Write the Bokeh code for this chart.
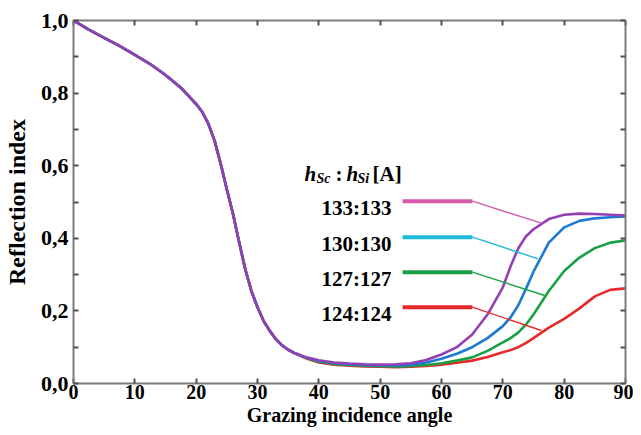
import math
from bokeh.plotting import figure
from bokeh.models import (LinearAxis, FixedTicker, CustomJSTickFormatter, Label, Range1d, Title)
from bokeh.embed import file_html
from bokeh.resources import INLINE

# ---------------- data ----------------
common_angles = [0, 2.5, 5, 7.5, 10, 12.5, 15, 17.5, 20, 21, 22, 23, 24, 25, 26,
                 27, 28, 29, 30, 31, 32, 33, 34, 35, 36]
common_vals = [1.0, 0.975, 0.952, 0.93, 0.905, 0.88, 0.85, 0.815, 0.77, 0.748, 0.715,
               0.669, 0.605, 0.535, 0.468, 0.39, 0.315, 0.255, 0.21, 0.172, 0.145,
               0.122, 0.105, 0.093, 0.084]

tail_angles = [38, 40, 42.5, 45, 47.5, 50, 52.5, 55, 57.5, 60, 62.5, 65, 67.5, 70,
               71.25, 72.5, 73.75, 75, 77.5, 80, 82.5, 85, 87.5, 90]

tail_133 = [0.072, 0.064, 0.058, 0.055, 0.053, 0.052, 0.053, 0.056, 0.065, 0.080, 0.100,
            0.135, 0.190, 0.265, 0.322, 0.372, 0.405, 0.425, 0.453, 0.465, 0.468, 0.467,
            0.465, 0.463]
tail_130 = [0.071, 0.062, 0.056, 0.053, 0.051, 0.050, 0.050, 0.052, 0.058, 0.068, 0.082,
            0.100, 0.125, 0.158, 0.182, 0.215, 0.260, 0.308, 0.388, 0.430, 0.448, 0.455,
            0.458, 0.460]
tail_127 = [0.070, 0.060, 0.054, 0.051, 0.049, 0.048, 0.047, 0.048, 0.051, 0.056, 0.063,
            0.072, 0.090, 0.113, 0.125, 0.140, 0.162, 0.190, 0.255, 0.310, 0.347, 0.373,
            0.388, 0.394]
tail_124 = [0.069, 0.058, 0.052, 0.049, 0.047, 0.046, 0.045, 0.046, 0.048, 0.052, 0.057,
            0.063, 0.073, 0.086, 0.092, 0.100, 0.111, 0.125, 0.154, 0.178, 0.207, 0.240,
            0.258, 0.262]

series_names = ["133:133", "130:130", "127:127", "124:124"]
series_tails = [tail_133, tail_130, tail_127, tail_124]
curve_colors = ["#9440b4", "#1c7ad2", "#1aa044", "#e62a2a"]
legend_colors = ["#d65aaa", "#1cb8d8", "#1aa044", "#e62a2a"]
# points on the curves where the leader lines end
leader_x = [76.3, 75.75, 76.84, 76.3]
leader_y = [0.4416, 0.3435, 0.2424, 0.146]

x_ticks = [0, 10, 20, 30, 40, 50, 60, 70, 80, 90]
y_ticks = [0.0, 0.2, 0.4, 0.6, 0.8, 1.0]
y_minor = [0.1, 0.3, 0.5, 0.7, 0.9]

angles = common_angles + tail_angles

# ---------------- figure ----------------
W, H = 633, 427
FL, FR, FT, FB = 72, 625, 20, 383  # frame edges in picture px
p = figure(width=W, height=H, output_backend="svg", toolbar_location=None,
           x_range=Range1d(0, 90), y_range=Range1d(0, 1.0),
           min_border_left=FL, min_border_right=W - FR, min_border_top=FT,
           min_border_bottom=H - FB,
           x_axis_location=None, y_axis_location=None)
p.outline_line_color = None
p.xgrid.visible = False
p.ygrid.visible = False
p.background_fill_color = "white"

AX_COL = "#7c7c7c"
TICK_COL = "#505050"
FONT = "Liberation Serif"

def style_axis(ax, labels=True, size="18px", standoff=3):
    ax.axis_line_color = AX_COL
    ax.axis_line_width = 2
    ax.major_tick_in = 5
    ax.major_tick_out = 0
    ax.minor_tick_in = 5
    ax.minor_tick_out = 0
    ax.major_tick_line_color = TICK_COL
    ax.major_tick_line_width = 2
    ax.minor_tick_line_color = TICK_COL
    ax.minor_tick_line_width = 2
    ax.major_label_text_font = FONT
    ax.major_label_text_font_style = "bold"
    ax.major_label_text_font_size = size
    ax.major_label_text_color = "black"
    ax.major_label_standoff = standoff
    if not labels:
        ax.formatter = CustomJSTickFormatter(code="return '';")

comma_fmt = CustomJSTickFormatter(code="return tick.toFixed(1).replace('.', ',');")

xb = LinearAxis(ticker=FixedTicker(ticks=x_ticks))
style_axis(xb, True, "20px", 1)
p.add_layout(xb, "below")

xt = LinearAxis(ticker=FixedTicker(ticks=x_ticks))
style_axis(xt, False)
p.add_layout(xt, "above")

yl = LinearAxis(ticker=FixedTicker(ticks=y_ticks, minor_ticks=y_minor))
style_axis(yl, True, "22px", 5)
yl.formatter = comma_fmt
yl.axis_label = "Reflection index"
yl.axis_label_text_font = FONT
yl.axis_label_text_font_style = "bold"
yl.axis_label_text_font_size = "24px"
yl.axis_label_text_color = "black"
yl.axis_label_standoff = 8
p.add_layout(yl, "left")

yr = LinearAxis(ticker=FixedTicker(ticks=y_ticks, minor_ticks=y_minor))
style_axis(yr, False)
p.add_layout(yr, "right")

# x axis title, centred under the frame
xtitle = Title(text="Grazing incidence angle", align="center",
               text_font=FONT, text_font_style="bold", text_font_size="20px",
               text_color="black", standoff=0)
p.add_layout(xtitle, "below")

# ---------------- curves ----------------
for tail, col in reversed(list(zip(series_tails, curve_colors))):
    p.line(angles, common_vals + tail, line_color=col, line_width=2.6)

# ---------------- legend (annotation style) ----------------
def wx(X):
    return (X - FL) / (FR - FL) * 90
def wy(Y):
    return (FB - Y) / (FB - FT)
def sx(X):  # picture px -> frame-relative screen units
    return X - FL
def sy(Y):
    return FB - Y

row_Y = [200.7, 236.7, 271.7, 306.7]
seg_x0, seg_x1 = wx(401.7), wx(471.7)
for i, name in enumerate(series_names):
    yy = wy(row_Y[i])
    p.line([seg_x0, seg_x1], [yy, yy], line_color=legend_colors[i], line_width=4)
    p.line([seg_x1, leader_x[i]], [yy, leader_y[i]], line_color=legend_colors[i], line_width=1.4)
    p.add_layout(Label(x=sx(390), y=sy(row_Y[i] + 6.6), x_units="screen", y_units="screen",
                       text=name, text_align="right", text_baseline="alphabetic",
                       text_font=FONT, text_font_style="bold", text_font_size="21px",
                       text_color="black"))

hdr = [
    ("h", 303, 173.3, "21px", "bold italic"),
    ("Sc", 315, 177.5, "14px", "bold italic"),
    (":", 334, 173.3, "21px", "bold"),
    ("h", 345, 173.3, "21px", "bold italic"),
    ("Si", 356, 177.5, "14px", "bold italic"),
    ("[A]", 371, 173.3, "21px", "bold"),
]
for t, X, Y, fs, st in hdr:
    p.add_layout(Label(x=sx(X), y=sy(Y), x_units="screen", y_units="screen", text=t,
                       text_align="left", text_baseline="alphabetic",
                       text_font=FONT, text_font_style=st, text_font_size=fs,
                       text_color="black"))

open("out.html", "w").write(file_html(p, INLINE))
